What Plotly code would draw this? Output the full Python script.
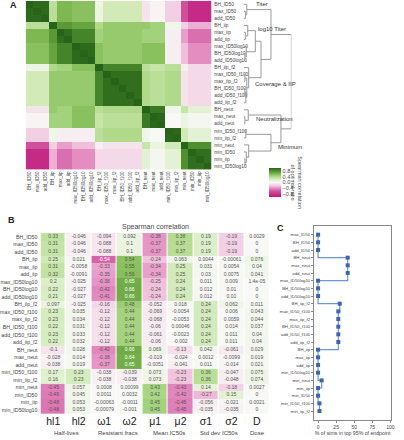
import plotly.graph_objects as go

W, H = 404, 440
def px(x): return x / W
def py(y): return 1 - y / H

# ---------------- data ----------------
var_names = ["BH_ID50", "max_ID50", "add_ID50", "BH_iip", "max_iip", "add_iip",
             "max_ID50log10", "BH_ID50log10", "add_ID50log10", "BH_iip_f2",
             "max_ID50_f100", "max_iip_f2", "BH_ID50_f100", "add_ID50_f100",
             "add_iip_f2", "BH_neut", "max_neut", "add_neut", "min_ID50_f100",
             "min_iip_f2", "min_neut", "min_ID50", "min_iip", "min_ID50log10"]

# Panel A: correlation read at sub-group resolution
subgroup_of_var = [0, 0, 0, 1, 2, 2, 3, 3, 3, 4, 5, 5, 5, 5, 5, 6, 7, 7, 8, 8, 9, 10, 10, 10]
subgroup_corr = [
    [0.97, 0.35, 0.60, 0.55, 0.08, 0.25, -0.10, -0.02, -0.20, -0.60, -0.85],
    [0.35, 1.00, 0.75, 0.70, 0.40, 0.50, 0.50, 0.45, 0.05, -0.20, -0.30],
    [0.60, 0.75, 0.95, 0.85, 0.45, 0.50, 0.45, 0.45, -0.05, -0.35, -0.50],
    [0.55, 0.70, 0.85, 0.97, 0.55, 0.50, 0.55, 0.55, -0.05, -0.25, -0.40],
    [0.08, 0.40, 0.45, 0.55, 1.00, 0.85, 0.35, 0.30, 0.35, -0.05, -0.15],
    [0.25, 0.50, 0.50, 0.50, 0.85, 0.95, 0.40, 0.35, 0.40, -0.10, -0.15],
    [-0.10, 0.50, 0.45, 0.55, 0.35, 0.40, 1.00, 0.90, 0.05, 0.30, 0.15],
    [-0.02, 0.45, 0.45, 0.55, 0.30, 0.35, 0.90, 0.98, 0.00, 0.10, 0.03],
    [-0.20, 0.05, -0.05, -0.05, 0.35, 0.40, 0.05, 0.00, 0.98, 0.25, 0.15],
    [-0.60, -0.20, -0.35, -0.25, -0.05, -0.10, 0.30, 0.10, 0.25, 1.00, 0.80],
    [-0.85, -0.30, -0.50, -0.40, -0.15, -0.15, 0.15, 0.03, 0.15, 0.80, 0.95],
]

# dendrogram merges: (child_a, child_b, height); ids >= 24 are earlier merges
dendro_merges = [
    (1, 2, 0.03), (0, 24, 0.06),
    (4, 5, 0.03), (3, 26, 0.08), (7, 8, 0.02), (6, 28, 0.05), (27, 29, 0.24),
    (10, 11, 0.02), (12, 13, 0.02), (32, 14, 0.04), (31, 33, 0.06), (9, 34, 0.10),
    (30, 35, 0.36), (25, 36, 0.57),
    (16, 17, 0.02), (15, 38, 0.09),
    (18, 19, 0.04), (22, 23, 0.02), (21, 41, 0.05), (20, 42, 0.10), (40, 43, 0.57),
    (39, 44, 0.78), (37, 45, 1.0),
]
cluster_labels = ["Titer", "log10 Titer", "Coverage & IIP", "Neutralization", "Minimum"]

# Panel B
col_labels = ["hl1", "hl2", "ω1", "ω2", "μ1", "μ2", "σ1", "σ2", "D"]
col_groups = ["Half-lives", "Resistant fracs", "Mean IC50s", "Std dev IC50s", "Dose"]
table_vals = [
    [0.33, -0.046, -0.094, 0.092, -0.38, 0.38, 0.19, -0.19, 0.0029],
    [0.31, -0.046, -0.088, 0.1, -0.37, 0.37, 0.19, -0.19, 0],
    [0.31, -0.046, -0.088, 0.1, -0.37, 0.37, 0.19, -0.19, 0],
    [0.25, 0.021, -0.54, 0.54, -0.24, 0.063, 0.0044, -0.00061, 0.076],
    [0.31, -0.0058, -0.33, 0.55, -0.34, 0.25, 0.031, 0.0054, 0.04],
    [0.32, -0.0091, -0.35, 0.56, -0.34, 0.25, 0.03, 0.0075, 0.041],
    [0.2, -0.025, -0.38, 0.65, -0.25, 0.24, 0.011, 0.009, 1.4e-05],
    [0.22, -0.027, -0.42, 0.66, -0.24, 0.24, 0.012, 0.01, 0],
    [0.21, -0.027, -0.41, 0.66, -0.24, 0.24, 0.012, 0.01, 0],
    [0.097, -0.025, -0.16, 0.48, -0.052, 0.018, 0.24, 0.062, 0.011],
    [0.23, 0.035, -0.12, 0.44, -0.069, -0.0054, 0.24, 0.006, 0.043],
    [0.23, 0.034, -0.12, 0.44, -0.068, -0.0053, 0.24, 0.0059, 0.044],
    [0.22, 0.031, -0.12, 0.44, -0.06, 0.00046, 0.24, 0.014, 0.037],
    [0.23, 0.033, -0.12, 0.44, -0.061, -0.0023, 0.24, 0.011, 0.04],
    [0.22, 0.032, -0.12, 0.44, -0.06, -0.002, 0.24, 0.011, 0.04],
    [-0.1, 0.028, -0.42, 0.66, 0.069, -0.13, 0.042, -0.061, 0.029],
    [-0.028, 0.014, -0.38, 0.64, -0.019, -0.024, 0.0012, -0.0099, 0.019],
    [-0.038, 0.019, -0.37, 0.65, -0.0051, -0.041, 0.011, -0.014, 0.021],
    [0.17, 0.23, -0.038, -0.039, 0.073, -0.23, 0.36, -0.047, 0.075],
    [0.16, 0.23, -0.038, -0.038, 0.073, -0.23, 0.36, -0.048, 0.074],
    [-0.45, 0.057, 0.0008, 0.00099, 0.43, -0.43, 0.14, -0.18, 0.0027],
    [-0.46, 0.045, 0.0011, 0.0032, 0.42, -0.42, -0.27, 0.15, 0],
    [-0.48, 0.053, -0.00063, -0.0011, 0.45, -0.45, -0.056, -0.021, 0.0021],
    [-0.48, 0.053, -0.00079, -0.001, 0.45, -0.45, -0.035, -0.035, 0],
]

# Panel C
c_labels = ["max_ID50", "BH_ID50", "add_ID50", "BH_neut", "max_neut", "add_neut",
            "max_ID50log10", "BH_ID50log10", "add_ID50log10", "BH_iip_f2",
            "max_ID50_f100", "max_iip_f2", "BH_ID50_f100", "add_ID50_f100",
            "add_iip_f2", "BH_iip", "max_iip", "add_iip", "min_ID50log10",
            "min_neut", "min_iip", "min_ID50", "min_ID50_f100", "min_iip_f2"]
c_values = [0, 0, 0, 41, 41, 41, 0, 0, 0, 30, 28, 28, 28, 28, 28, 0, 0, 0, 0, 5, 0, 0, 2, 2]
c_ticks = [0, 25, 50, 75, 100]

# ---------------- styling ----------------
FONT = "Liberation Sans, Arial, sans-serif"
TXT = "#444"
pts = [(-1.0, "#c0137a"), (-0.6, "#d0509c"), (-0.4, "#e48dc1"), (-0.2, "#f3cfe4"),
       (0.0, "#f8f8f6"), (0.2, "#dcefc8"), (0.4, "#b0da8a"), (0.6, "#7db850"),
       (0.8, "#4f8f2e"), (1.0, "#276419")]
cscale = [[(v + 1) / 2, c] for v, c in pts]

n = len(var_names)
corr_a = [[1.0 if i == j else subgroup_corr[subgroup_of_var[i]][subgroup_of_var[j]]
           for j in range(n)] for i in range(n)]

fig = go.Figure()

# Panel A heatmap
fig.add_trace(go.Heatmap(
    z=corr_a, x=list(range(n)), y=list(range(n)), colorscale=cscale, zmin=-1, zmax=1,
    xaxis="x", yaxis="y", hoverinfo="skip",
    colorbar=dict(x=px(261), xanchor="left", thickness=12, len=49 / H, lenmode="fraction",
                  y=py(182.5), yanchor="middle", outlinewidth=0, ticks="",
                  tickvals=[-0.8, -0.4, 0, 0.4, 0.8],
                  ticktext=["\u22120.8", "\u22120.4", "0.0", "0.4", "0.8"],
                  tickfont=dict(size=5.5, color=TXT, family=FONT))))

# dendrogram
pos = {i: float(i) for i in range(n)}
hgt = {i: 0.0 for i in range(n)}
dx, dy = [], []
for k, (a, b, h) in enumerate(dendro_merges):
    nid = n + k
    dx += [hgt[a], h, h, hgt[b], None]
    dy += [pos[a], pos[a], pos[b], pos[b], None]
    pos[nid] = (pos[a] + pos[b]) / 2
    hgt[nid] = h
fig.add_trace(go.Scatter(x=dx, y=dy, mode="lines", line=dict(color="#9a9a9a", width=1),
                         xaxis="x2", yaxis="y", hoverinfo="skip", showlegend=False))

# Panel B table
fig.add_trace(go.Heatmap(
    z=table_vals, x=list(range(9)), y=list(range(n)), colorscale=cscale, zmin=-1, zmax=1,
    showscale=False, xgap=1, xaxis="x3", yaxis="y3", hoverinfo="skip"))

def fmt(v):
    return "0" if v == 0 else "{:.2g}".format(v)

dk = {"x": [], "y": [], "t": []}
wt = {"x": [], "y": [], "t": []}
for i, row in enumerate(table_vals):
    for j, v in enumerate(row):
        d = wt if (v > 0.6 or v < -0.5) else dk
        d["x"].append(j); d["y"].append(i); d["t"].append(fmt(v))
for d, col in ((dk, "#555"), (wt, "white")):
    fig.add_trace(go.Scatter(x=d["x"], y=d["y"], text=d["t"], mode="text",
                             textfont=dict(size=5, color=col, family=FONT),
                             xaxis="x3", yaxis="y3", hoverinfo="skip", showlegend=False))

# Panel C
cy = list(range(len(c_labels)))
fig.add_trace(go.Scatter(x=c_values, y=cy, mode="lines", line=dict(color="#6f96d4", width=1.2, shape="vh"),
                         xaxis="x4", yaxis="y4", hoverinfo="skip", showlegend=False))
fig.add_trace(go.Scatter(x=c_values, y=cy, mode="markers",
                         marker=dict(symbol="square", size=4, color="#3b66b4"),
                         xaxis="x4", yaxis="y4", hoverinfo="skip", showlegend=False))

tf = lambda s: dict(size=s, color=TXT, family=FONT)

fig.update_layout(
    width=W, height=H, margin=dict(l=0, r=0, t=0, b=0),
    paper_bgcolor="white", plot_bgcolor="white", showlegend=False,
    font=dict(family=FONT, color=TXT),
    xaxis=dict(domain=[px(25), px(213)], anchor="y", range=[-0.5, n - 0.5],
               tickvals=list(range(n)), ticktext=var_names, tickangle=-90,
               tickfont=tf(4.6), ticks="", showgrid=False, zeroline=False, showline=False),
    yaxis=dict(domain=[py(169.5), py(0.8)], anchor="x", range=[n - 0.5, -0.5], side="right",
               tickvals=list(range(n)), ticktext=var_names, tickfont=tf(4.8), ticks="",
               showgrid=False, zeroline=False, showline=False, ticklabelstandoff=2),
    xaxis2=dict(domain=[px(246), px(294)], anchor="y", range=[0, 1.0], visible=False,
                showgrid=False, zeroline=False),
    xaxis3=dict(domain=[px(40), px(272)], anchor="y3", range=[-0.5, 8.5],
                tickvals=list(range(9)), ticktext=col_labels, tickfont=dict(size=10.5, color="#222", family=FONT),
                ticks="", showgrid=False, zeroline=False, showline=False),
    yaxis3=dict(domain=[py(413.8), py(232.9)], anchor="x3", range=[n - 0.5, -0.5],
                tickvals=list(range(n)), ticktext=var_names, tickfont=tf(5.3), ticks="",
                showgrid=False, zeroline=False, showline=False, ticklabelstandoff=2),
    xaxis4=dict(domain=[px(317), px(395)], anchor="y4", range=[-5.5, 101],
                tickvals=c_ticks, ticktext=[str(t) for t in c_ticks], tickfont=tf(5),
                ticks="outside", ticklen=2, tickcolor="#888", showline=True, mirror=True,
                linecolor="#888", linewidth=1, showgrid=False, zeroline=False,
                title=dict(text="% of sims in top 95% of endpoint", font=tf(5.2), standoff=2)),
    yaxis4=dict(domain=[py(420), py(226)], anchor="x4", range=[len(c_labels) - 1 + 1.17, -1.13],
                tickvals=cy, ticktext=c_labels, tickfont=tf(4.3), ticks="outside", ticklen=2,
                tickcolor="#888", showline=True, mirror=True, linecolor="#888", linewidth=1,
                showgrid=False, zeroline=False),
)

ann = []
def A(x, y, text, size, xanchor="center", yanchor="middle", **kw):
    ann.append(dict(x=px(x), y=py(y), xref="paper", yref="paper", text=text, showarrow=False,
                    xanchor=xanchor, yanchor=yanchor, font=kw.pop("font", tf(size)), **kw))

A(13, 5, "<b>A</b>", 9, font=dict(size=9, color="#222", family=FONT))
A(11, 220, "<b>B</b>", 9, font=dict(size=9, color="#222", family=FONT))
A(283, 228, "<b>C</b>", 9, font=dict(size=9, color="#222", family=FONT))

for (xx, yy), lab in zip([(256, 4), (258, 29), (255, 84), (256, 119), (278, 147)], cluster_labels):
    A(xx, yy, lab, 6, xanchor="left", font=dict(size=6, color="#333", family=FONT))

A(299.5, 183, "Spearman correlation<br>of optimal ratio", 5.5, textangle=90)
A(156, 227, "Spearman correlation", 7)

for (xx, lab) in zip([66, 118, 170, 221, 260], col_groups):
    A(xx, 433, lab, 6)

fig.update_layout(annotations=ann)
fig.write_html("out.html", config={"displayModeBar": False},
               post_script="document.body.style.margin='0px';document.body.style.overflow='hidden';")
